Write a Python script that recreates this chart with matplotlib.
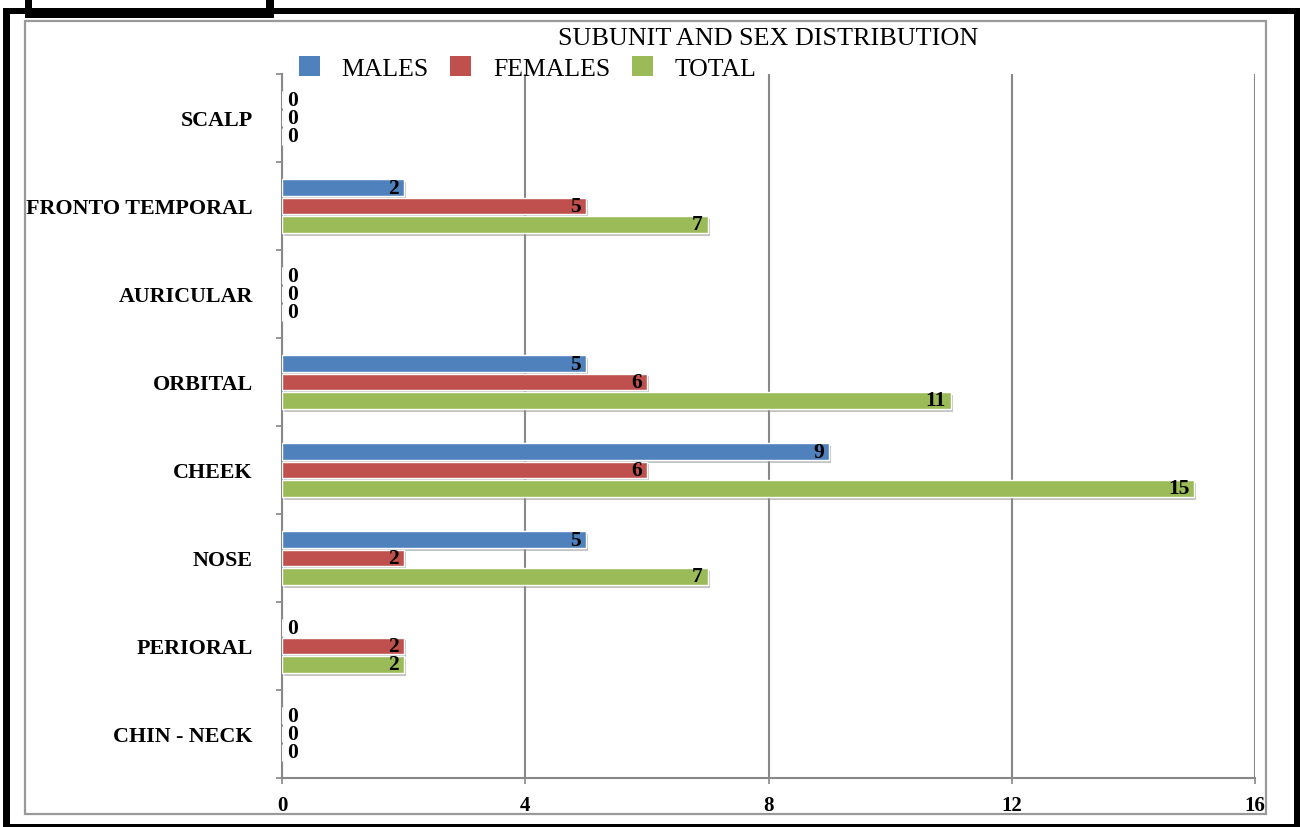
import numpy as np
import matplotlib
matplotlib.use("Agg")
import matplotlib.pyplot as plt
import matplotlib.patheffects as pe
from matplotlib.patches import Rectangle, Patch

plt.rcParams['font.family'] = ['Liberation Serif', 'DejaVu Serif']

# data
categories = ['SCALP', 'FRONTO TEMPORAL', 'AURICULAR', 'ORBITAL',
              'CHEEK', 'NOSE', 'PERIORAL', 'CHIN - NECK']
males = [0, 2, 0, 5, 9, 5, 0, 0]
females = [0, 5, 0, 6, 6, 2, 2, 0]
total = [0, 7, 0, 11, 15, 7, 2, 0]
series_names = ['MALES', 'FEMALES', 'TOTAL']
colors = ['#4F81BD', '#C0504D', '#9BBB59']
x_ticks = [0, 4, 8, 12, 16]

W, H = 1300, 828
fig = plt.figure(figsize=(W / 100, H / 100), dpi=100)


def px_rect(x0, y0, x1, y1, **kw):
    # prostokat w pikselach (od gory) -> figura
    r = Rectangle((x0 / W, 1 - y1 / H), (x1 - x0) / W, (y1 - y0) / H,
                  transform=fig.transFigure, **kw)
    fig.add_artist(r)
    return r


# ramki
px_rect(25, 22, 1266, 815, fill=False, edgecolor='#999999', linewidth=1.6)
px_rect(3, 9, 10, 828, facecolor='black', edgecolor='none')
px_rect(3, 9, 1300, 15, facecolor='black', edgecolor='none')
px_rect(1294, 9, 1300, 828, facecolor='black', edgecolor='none')
px_rect(3, 825, 1300, 828, facecolor='black', edgecolor='none')
px_rect(25, 9, 274, 19, facecolor='black', edgecolor='none')
px_rect(25, 0, 32, 19, facecolor='black', edgecolor='none')
px_rect(266, 0, 274, 19, facecolor='black', edgecolor='none')

ax = fig.add_axes([282 / W, 1 - 779 / H, 973 / W, 704 / H])

y = np.arange(len(categories))
bar_h = 0.19
step = 0.21
shadow = [pe.SimplePatchShadow(offset=(1.5, -2), shadow_rgbFace='#888888', alpha=0.5),
          pe.Normal()]

for k, (vals, col) in enumerate(zip([males, females, total], colors)):
    pos = y + (k - 1) * step
    bars = ax.barh(pos, vals, height=bar_h, color=col, edgecolor='white',
                   linewidth=1.0, zorder=3)
    for b in bars:
        b.set_path_effects(shadow)
    for p, v in zip(pos, vals):
        if v == 0:
            ax.annotate(str(v), (v, p), xytext=(4, 0), textcoords='offset points',
                        ha='left', va='center', fontsize=15.5, fontweight='bold',
                        zorder=5)
        else:
            ax.annotate(str(v), (v, p), xytext=(-3.5, 0), textcoords='offset points',
                        ha='right', va='center', fontsize=15.5, fontweight='bold',
                        zorder=5)

ax.set_xlim(0, 16)
ax.set_ylim(len(categories) - 0.5, -0.5)
ax.set_xticks(x_ticks)
ax.set_xticklabels([str(t) for t in x_ticks], fontsize=15, fontweight='bold')
ax.set_yticks(y)
ax.set_yticklabels(categories, fontsize=15.8, fontweight='bold')
ax.set_yticks(np.arange(len(categories) + 1) - 0.5, minor=True)

ax.tick_params(axis='y', which='major', length=0, pad=21)
ax.tick_params(axis='y', which='minor', length=4, width=1.2, color='#888888',
               direction='out')
ax.tick_params(axis='x', length=4, width=1.2, color='#888888', direction='out',
               pad=8)

for s in ['top', 'right']:
    ax.spines[s].set_visible(False)
for s in ['left', 'bottom']:
    ax.spines[s].set_color('#888888')
    ax.spines[s].set_linewidth(1.5)

ax.xaxis.grid(True, color='#888888', linewidth=1.5, zorder=0)
ax.set_axisbelow(True)

fig.text(768 / W, 1 - 39 / H, 'SUBUNIT AND SEX DISTRIBUTION', ha='center',
         va='center', fontsize=18.8)

handles = [Patch(facecolor=c, edgecolor='none') for c in colors]
fig.legend(handles, series_names, loc='center left',
           bbox_to_anchor=(299 / W, 1 - 69 / H), ncol=3, frameon=False,
           fontsize=18.5, handlelength=0.8, handleheight=0.8,
           handletextpad=0.85, columnspacing=0.85, borderpad=0,
           borderaxespad=0)

fig.savefig('out.png', dpi=100)
